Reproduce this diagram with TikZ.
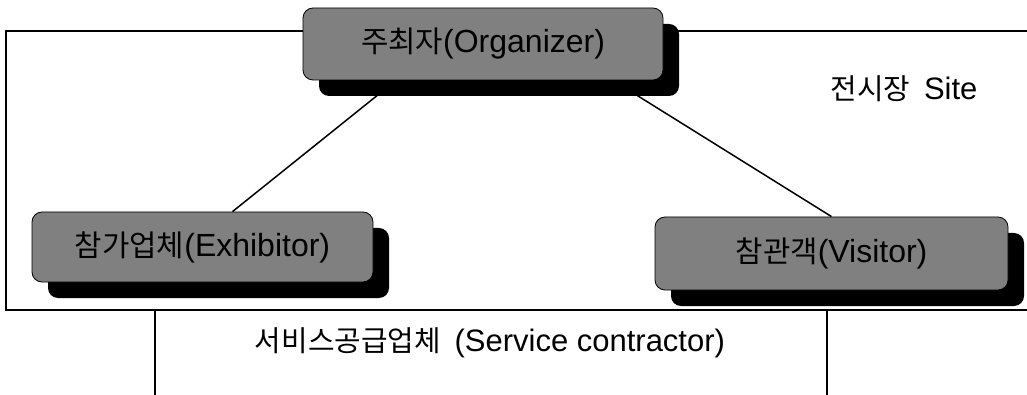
\documentclass[tikz,border=0pt]{standalone}
\usepackage{fontspec}
\setmainfont{Liberation Sans}
\newfontfamily\kr[Scale=0.93]{Noto Sans CJK KR}
\newcommand\ko[1]{{\kr #1}}
\usetikzlibrary{calc,shadows,backgrounds}
\tikzset{
  actor/.style={draw=black, line width=0.8pt, fill=black!50, rounded corners=10pt,
    inner sep=0pt, text=black, font=\fontsize{32}{34}\selectfont,
    drop shadow={shadow xshift=16pt, shadow yshift=-16pt, fill=black, opacity=1}},
  conn/.style={draw=black, line width=1.5pt},
  frame/.style={draw=black, line width=2pt},
  label/.style={inner sep=0pt, text=black, font=\fontsize{31}{33}\selectfont},
}
\begin{document}
\begin{tikzpicture}[x=1pt, y=-1pt]
\useasboundingbox (0,0) rectangle (1027,395);
% site frame (open to the right)
\coordinate (siteTL) at (6,31);
\coordinate (siteTR) at (1027,31);
\coordinate (siteBL) at (6,310);
\coordinate (siteBR) at (1027,310);
\draw[frame] (siteTR) -- (siteTL) -- (siteBL) -- (siteBR);
% service contractor box (open at the bottom)
\coordinate (svcTL) at (155,310);
\coordinate (svcBL) at (155,396);
\coordinate (svcTR) at (827,310);
\coordinate (svcBR) at (827,396);
\draw[frame] (svcTL) -- (svcBL);
\draw[frame] (svcTR) -- (svcBR);
\node[label] (site) at (904,89) {\ko{전시장}\hspace{0.45em}Site};
\node[label] (svc) at (490,343) {\ko{서비스공급업체}\hspace{0.45em}(Service contractor)};
% actors
\node[actor, minimum width=360pt, minimum height=72pt] (org) at (483,44) {\ko{주최자}(Organizer)};
\node[actor, minimum width=341pt, minimum height=70pt] (exh) at (202.5,247) {\ko{참가업체}(Exhibitor)};
\node[actor, minimum width=353pt, minimum height=73pt] (vis) at (831.5,253.5) {\ko{참관객}(Visitor)};
% connectors
\begin{scope}[on background layer]
\draw[conn] ($(org.south)+(-87,0)$) -- ($(exh.north)+(30,0)$);
\draw[conn] ($(org.south)+(130,0)$) -- (vis.north);
\draw[conn] ($(exh.east)+(0,29)$) -- ($(exh.east)+(0,29)$ -| vis.west);
\end{scope}
\end{tikzpicture}
\end{document}
